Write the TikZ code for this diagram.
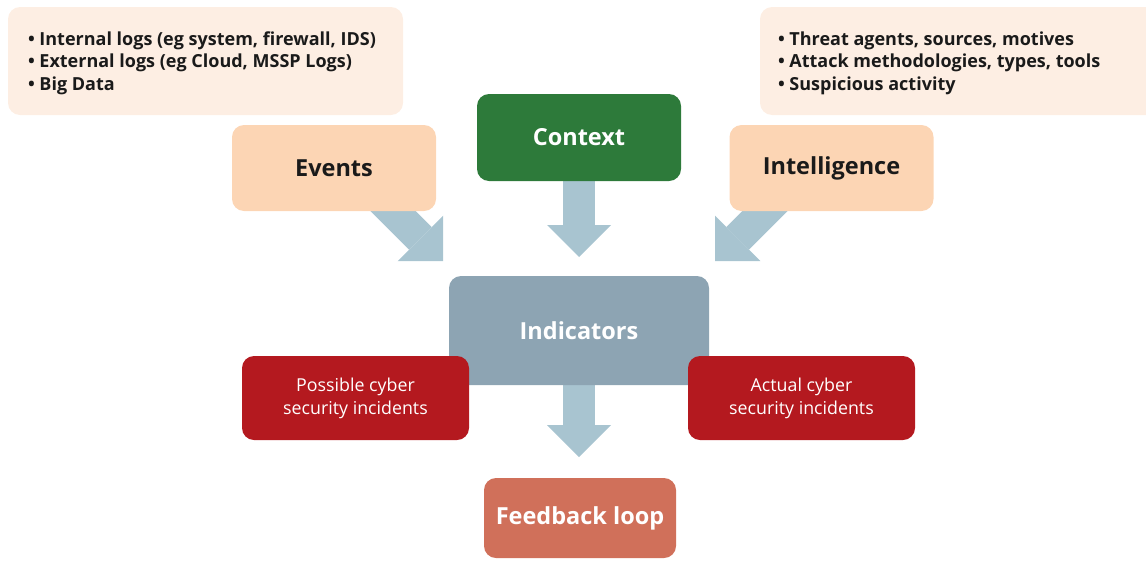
\documentclass[tikz,border=0pt]{standalone}
\usepackage{fontspec}
\setmainfont{Open Sans}
\usetikzlibrary{arrows.meta,backgrounds}

\definecolor{infofill}{RGB}{253,238,227}
\definecolor{peach}{RGB}{252,213,180}
\definecolor{ctxgreen}{RGB}{45,122,58}
\definecolor{indgray}{RGB}{141,164,179}
\definecolor{incred}{RGB}{180,25,31}
\definecolor{loopred}{RGB}{208,112,90}
\definecolor{arrowblue}{RGB}{168,196,208}
\definecolor{ink}{RGB}{26,26,26}

\begin{document}
\begin{tikzpicture}[x=1pt,y=-1pt,
    box/.style={rounded corners=12pt, inner sep=0pt, align=center},
    infobox/.style={box, fill=infofill, minimum height=108pt},
    listtext/.style={anchor=west, inner sep=0pt, align=left, text=ink,
      font=\fontsize{18}{22.5}\selectfont\bfseries},
    srcbox/.style={box, fill=peach, text=ink, minimum width=204pt, minimum height=86pt,
      font=\fontsize{23.5}{28}\selectfont\bfseries},
    incbox/.style={box, fill=incred, text=white, minimum width=227pt, minimum height=84pt,
      font=\fontsize{17.8}{23}\selectfont},
    fatarrow/.style={draw=arrowblue, line width=32pt,
      -{Triangle[width=64pt,length=32pt,line width=0pt]}}]
  \clip (0,0) rectangle (1146,560);

  % what feeds the indicators
  \node[infobox, minimum width=395pt] (evinfo) at (205.5,61) {};
  \node[listtext] (evlist) at ([xshift=20pt,yshift=-2pt]evinfo.west)
    {\textbullet\ Internal logs (eg system, firewall, IDS)\\
     \textbullet\ External logs (eg Cloud, MSSP Logs)\\
     \textbullet\ Big Data};
  \node[infobox, minimum width=400pt] (intinfo) at (960,61) {};
  \node[listtext] (intlist) at ([xshift=18pt,yshift=-2pt]intinfo.west)
    {\textbullet\ Threat agents, sources, motives\\
     \textbullet\ Attack methodologies, types, tools\\
     \textbullet\ Suspicious activity};
  \node[srcbox] (events) at (334,168) {Events};
  \node[srcbox] (intel) at (831.5,168) {Intelligence};
  \node[box, fill=ctxgreen, text=white, minimum width=204pt, minimum height=87pt,
    font=\fontsize{23.5}{28}\selectfont\bfseries] (context) at (579,137.5) {Context};

  % indicators and outcomes
  \node[box, fill=indgray, text=white, minimum width=260pt, minimum height=109pt,
    font=\fontsize{23.5}{28}\selectfont\bfseries] (indicators) at (579,330.5) {Indicators};
  \node[incbox] (possible) at (355.5,398) {Possible cyber\\security incidents};
  \node[incbox] (actual) at (801.5,398) {Actual cyber\\security incidents};
  \node[box, fill=loopred, text=white, minimum width=192pt, minimum height=80pt,
    font=\fontsize{23.5}{28}\selectfont\bfseries] (feedback) at (580,518) {Feedback loop};

  \coordinate (evstart) at (362,180);
  \coordinate (evtip) at (443,261);
  \coordinate (intstart) at (796,180);
  \coordinate (inttip) at (715,261);
  \coordinate (ctxtip) at (579,257);
  \coordinate (fbtip) at (579,457);

  \begin{scope}[on background layer]
    \draw[fatarrow] (evstart) -- (evtip);
    \draw[fatarrow] (intstart) -- (inttip);
    \draw[fatarrow] (context) -- (ctxtip);
    \draw[fatarrow] (indicators) -- (fbtip);
  \end{scope}
\end{tikzpicture}
\end{document}
